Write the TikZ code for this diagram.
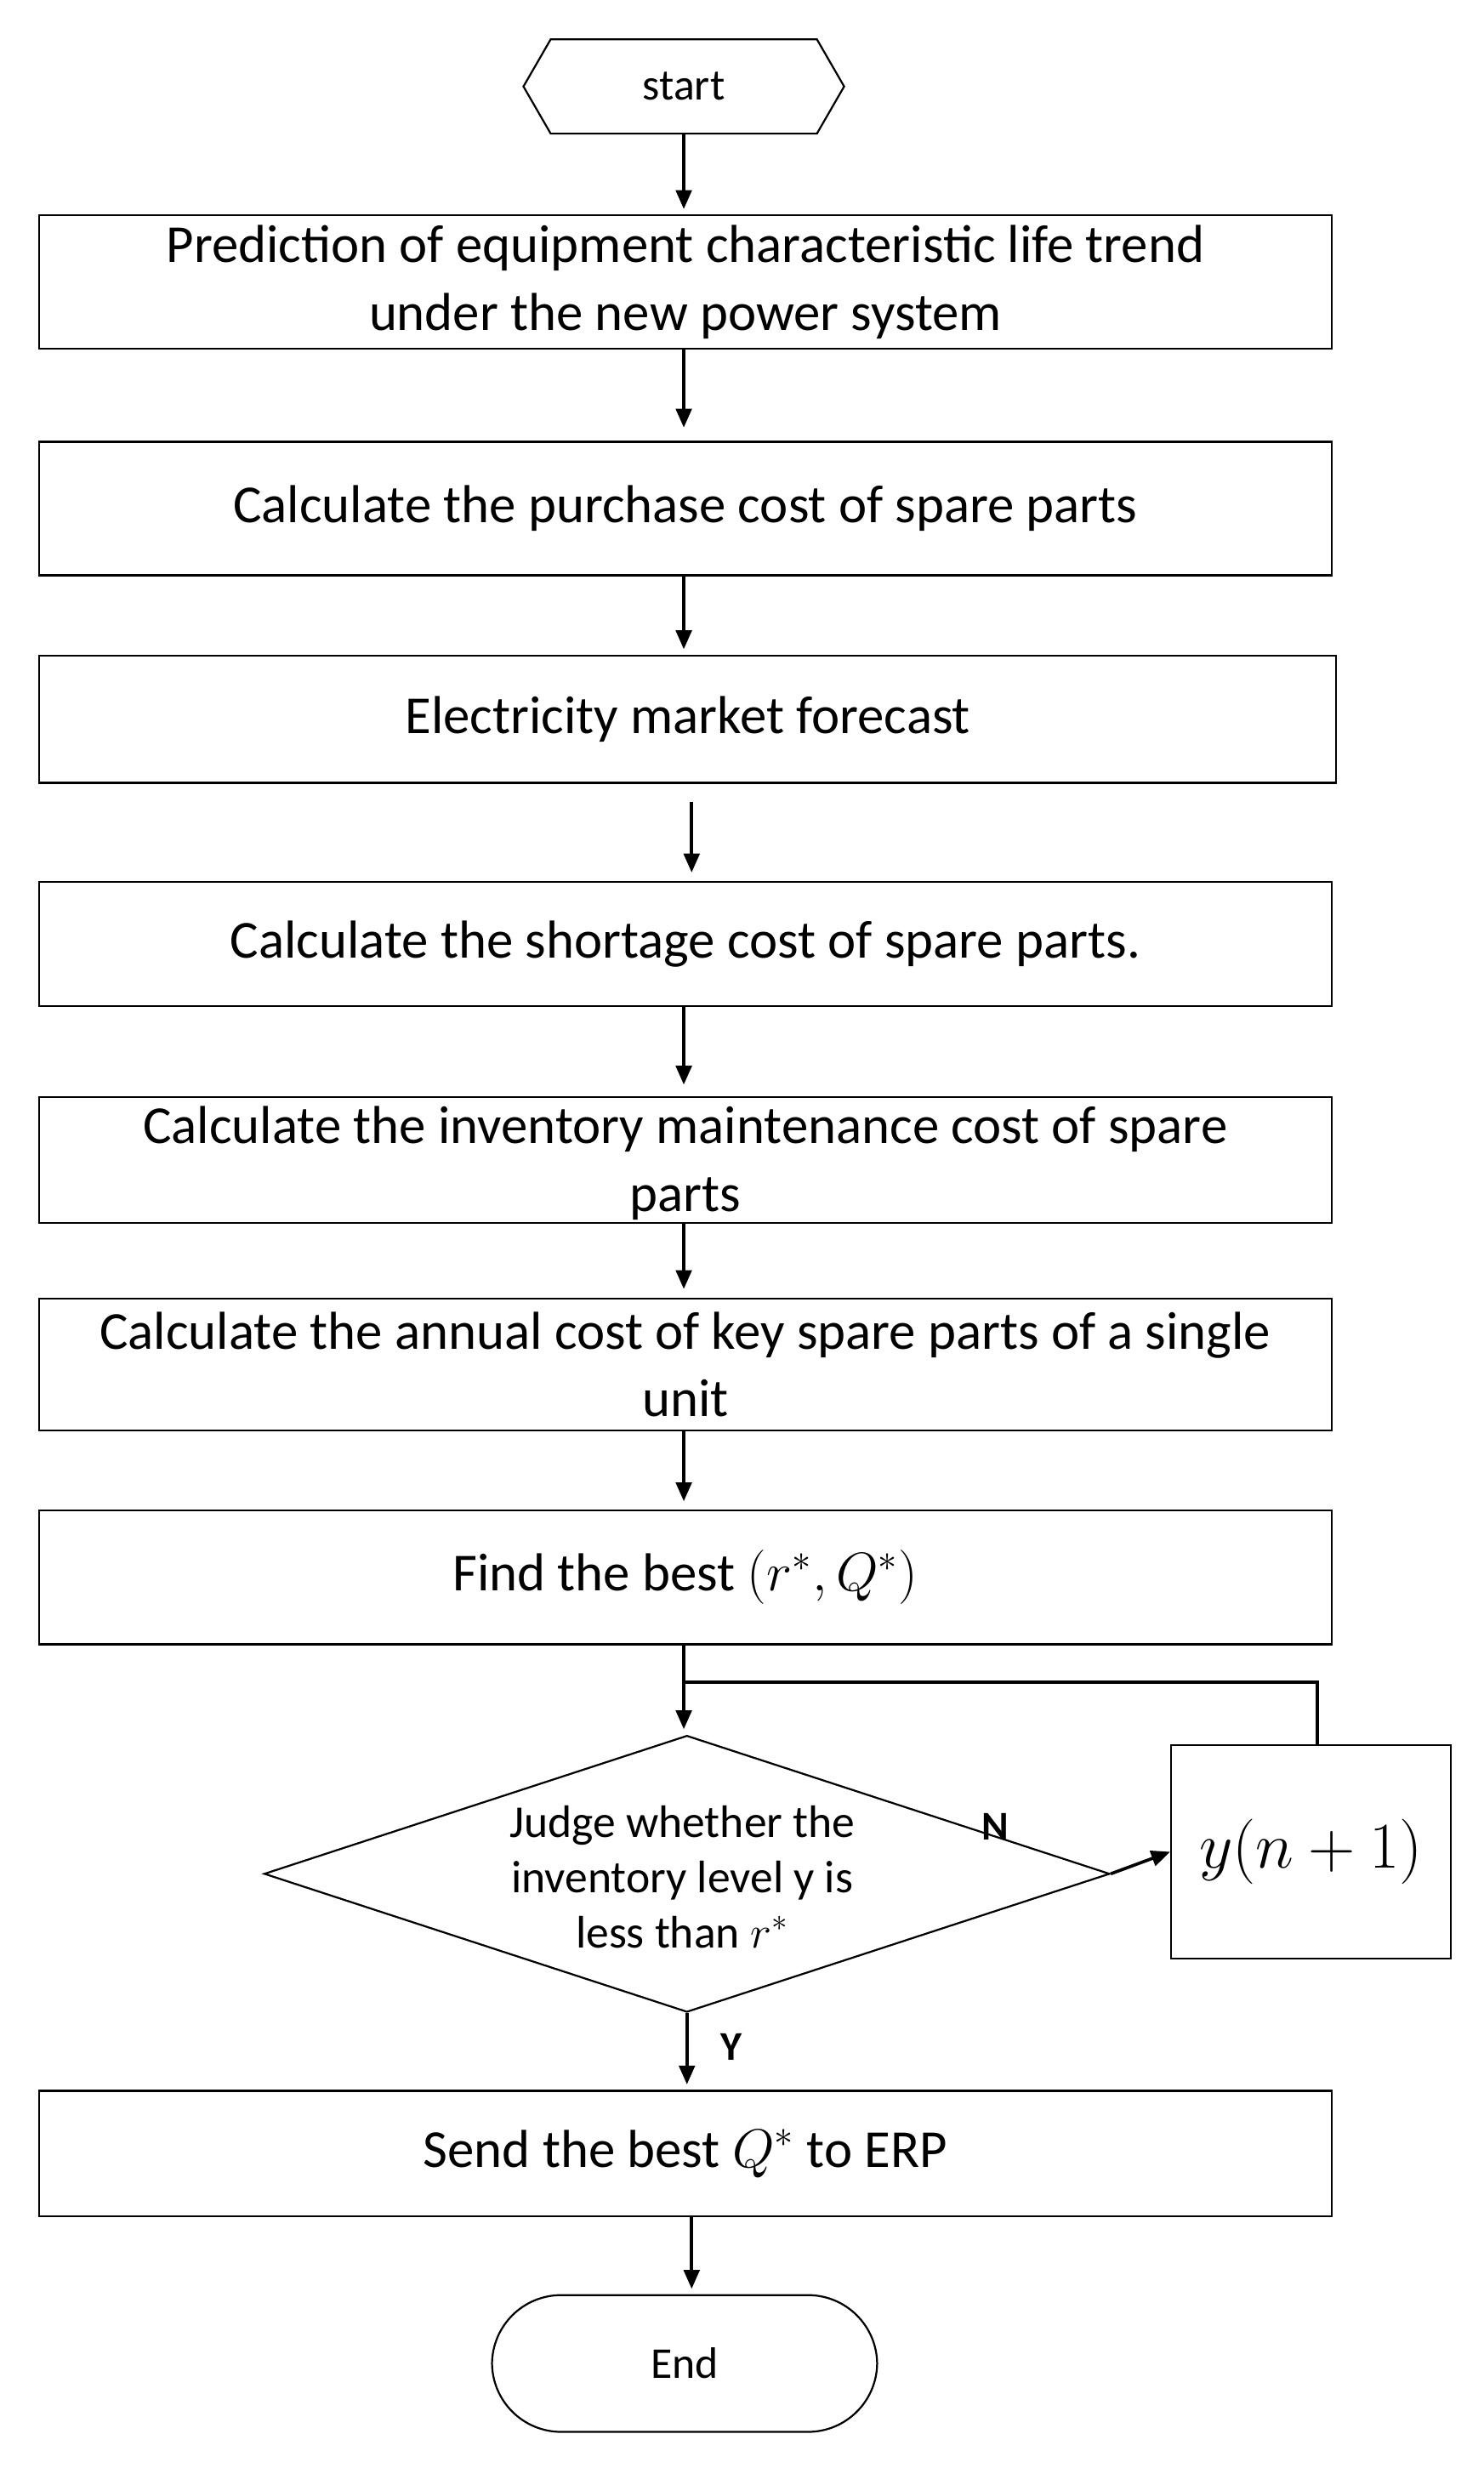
\documentclass[tikz,border=0pt]{standalone}
\usepackage{fontspec}
\setmainfont{Carlito}
\usetikzlibrary{shapes.geometric,shapes.symbols,arrows.meta}
\begin{document}
\begin{tikzpicture}[x=0.5pt,y=-0.5pt,
  box/.style={draw,line width=0.6pt,inner sep=0pt,font=\fontsize{17}{21.5}\selectfont,align=center},
  arr/.style={-{Triangle[length=6pt,width=5pt]},line width=1pt}]
\useasboundingbox (0,0) rectangle (944,1570);
\node[draw,line width=0.6pt,signal,signal to=east and west,signal pointer angle=120,minimum width=102pt,minimum height=30pt,inner sep=0pt,font=\fontsize{14}{16}\selectfont] (s) at (435,55) {start};
\node[box,minimum width=411pt,minimum height=42.5pt] (b1) at (436,179.5) {Prediction of equipment characteristic life trend\\under the new power system};
\node[box,minimum width=411pt,minimum height=42.5pt] (b2) at (436,323.5) {Calculate the purchase cost of spare parts};
\node[box,minimum width=412.5pt,minimum height=40.5pt] (b3) at (437.5,457.5) {Electricity market forecast};
\node[box,minimum width=411pt,minimum height=39.5pt] (b4) at (436,600.5) {Calculate the shortage cost of spare parts.};
\node[box,minimum width=411pt,minimum height=40pt] (b5) at (436,738) {};
\node[font=\fontsize{17}{21.5}\selectfont,align=center] at (436,740) {Calculate the inventory maintenance cost of spare\\parts};
\node[box,minimum width=411pt,minimum height=42pt] (b6) at (436,868) {Calculate the annual cost of key spare parts of a single\\unit};
\node[box,minimum width=411pt,minimum height=42.5pt] (b7) at (436,1003.5) {Find the best $(r^*,Q^*)$};
\node[draw,line width=0.6pt,diamond,aspect=3.06,minimum width=269pt,minimum height=88pt,inner sep=0pt] (d) at (437,1192) {};
\node[font=\fontsize{14.5}{17.5}\selectfont,align=center] at (434,1194) {Judge whether the\\inventory level y is\\less than $r^*$};
\node[box,minimum width=89pt,minimum height=68pt] (y) at (834,1178) {\fontsize{19.5}{22}\selectfont$y(n+1)$};
\node[box,minimum width=411pt,minimum height=40pt] (b8) at (436,1370) {Send the best $Q^*$ to ERP};
\node[draw,line width=0.6pt,rounded corners=22pt,minimum width=122.5pt,minimum height=43.5pt,inner sep=0pt,font=\fontsize{14}{16}\selectfont] (e) at (435.5,1503.5) {End};
\draw[arr] (s.south) -- (435,133);
\draw[arr] (b1.south) ++(-1,0) -- (435,272);
\draw[arr] (b2.south) ++(-1,0) -- (435,413);
\draw[arr] (440,510) -- (440,555);
\draw[arr] (b4.south) ++(-1,0) -- (435,690);
\draw[arr] (b5.south) ++(-1,0) -- (435,820);
\draw[arr] (b6.south) ++(-1,0) -- (435,955);
\draw[arr] (b7.south) ++(-1,0) -- (435,1100);
\draw[line width=1pt] (435,1070) -- (838,1070) -- (838,1110);
\draw[arr] (d.east) -- (y.west);
\node[font=\bfseries\fontsize{13}{15}\selectfont] at (633,1162) {N};
\draw[arr] (d.south) -- (437,1326);
\node[font=\bfseries\fontsize{13}{15}\selectfont] at (465,1302) {Y};
\draw[arr] (b8.south) ++(4,0) -- (440,1456);
\end{tikzpicture}
\end{document}
